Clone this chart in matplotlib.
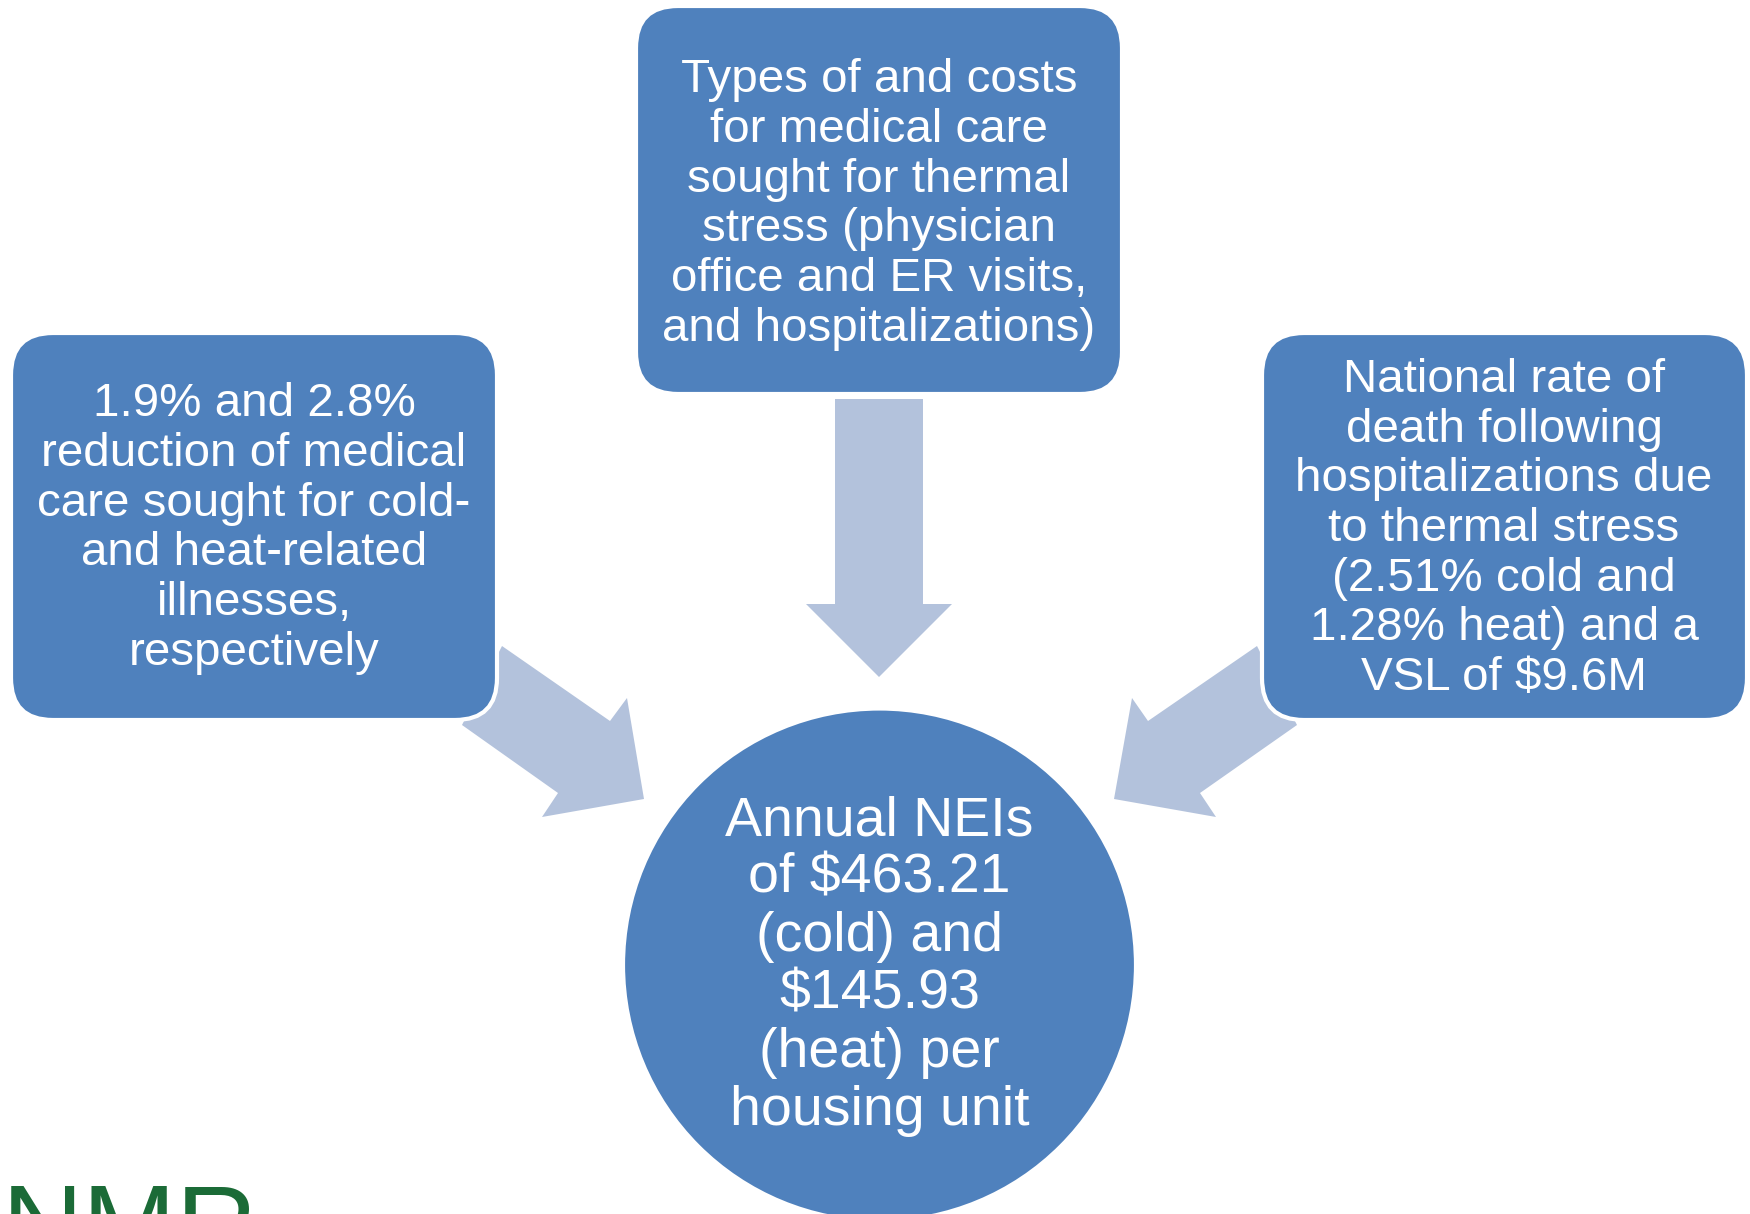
import matplotlib.pyplot as plt
from matplotlib.patches import FancyBboxPatch, Circle, Polygon

plt.rcParams['font.family'] = ['Liberation Sans', 'DejaVu Sans']

box_blue = '#4F81BD'
arrow_blue = '#B3C2DC'
logo_green = '#1B6B37'

top_lines = ["Types of and costs", "for medical care", "sought for thermal",
             "stress (physician", "office and ER visits,", "and hospitalizations)"]
left_lines = ["1.9% and 2.8%", "reduction of medical", "care sought for cold-",
              "and heat-related", "illnesses,", "respectively"]
right_lines = ["National rate of", "death following", "hospitalizations due",
               "to thermal stress", "(2.51% cold and", "1.28% heat) and a",
               "VSL of $9.6M"]
circle_lines = ["Annual NEIs", "of $463.21", "(cold) and", "$145.93",
                "(heat) per", "housing unit"]

W, H = 1750, 1214
fig = plt.figure(figsize=(W / 100, H / 100), dpi=100)
ax = fig.add_axes([0, 0, 1, 1])
ax.set_xlim(0, W)
ax.set_ylim(H, 0)
ax.axis('off')

# arrows (under the boxes)
down = [(835, 399), (923, 399), (923, 604), (952, 604), (879, 677),
        (806, 604), (835, 604)]
left_arrow = [(502, 646), (610, 721), (627, 698), (644, 799), (542, 817),
              (558, 793), (462, 725)]
right_arrow = [(1257, 646), (1148, 721), (1132, 698), (1114, 799), (1216, 817),
               (1200, 793), (1297, 725)]
for pts in (down, left_arrow, right_arrow):
    ax.add_patch(Polygon(pts, closed=True, facecolor=arrow_blue,
                         edgecolor='none', zorder=1))


def rbox(x0, y0, x1, y1):
    ax.add_patch(FancyBboxPatch((x0, y0), x1 - x0, y1 - y0,
                                boxstyle="round,pad=0,rounding_size=42",
                                facecolor=box_blue, edgecolor='white',
                                linewidth=3, zorder=2))


def lines_text(lines, cx, first_base, pitch, size):
    for i, s in enumerate(lines):
        ax.text(cx, first_base + i * pitch, s, color='white', fontsize=size,
                ha='center', va='baseline', zorder=3)


rbox(636, 6, 1122, 394)
rbox(11, 333, 497, 720)
rbox(1262, 333, 1747, 720)
ax.add_patch(Circle((879.5, 965), 256.5, facecolor=box_blue,
                    edgecolor='white', linewidth=3, zorder=2))

lines_text(top_lines, 879, 92, 49.8, 34.2)
lines_text(left_lines, 254, 416, 49.8, 34.2)
lines_text(right_lines, 1504, 392, 49.7, 34.2)
lines_text(circle_lines, 879.5, 835, 58, 40)

# logo, cut off by the bottom edge as in the original slide
ax.text(2, 1181, "NMR", color=logo_green, fontsize=81, ha='left', va='top',
        fontweight='medium', zorder=3)

fig.savefig("out.png", dpi=100)
